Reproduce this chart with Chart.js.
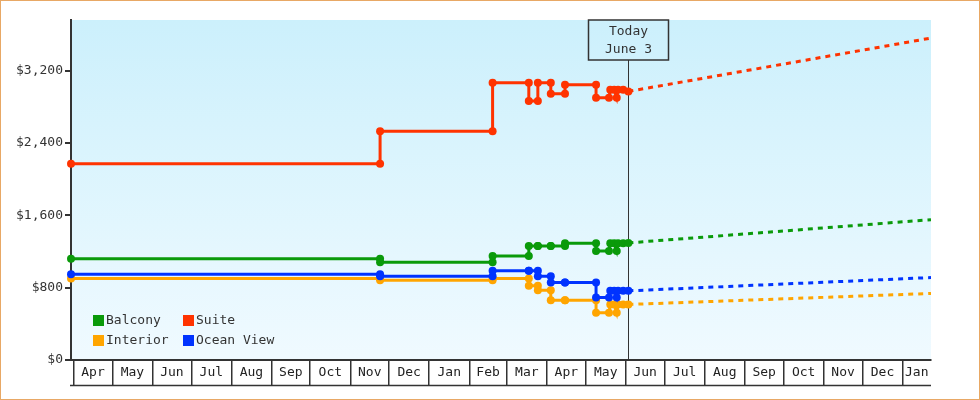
<!DOCTYPE html>
<html>
<head>
<meta charset="utf-8">
<script src="https://cdn.jsdelivr.net/npm/chart.js@4.4.1/dist/chart.umd.min.js"></script>
<style>
  html, body { margin: 0; padding: 0; background: #fff; }
  #wrap { width: 980px; height: 400px; box-sizing: border-box; border: 1px solid #e8a865; }
  canvas { display: block; }
</style>
</head>
<body>
<div id="wrap"><canvas id="chart" width="978" height="398"></canvas></div>
<script>
// axis range and month boxes
const axisStart = "2023-03-30";
const axisEnd = "2025-01-23";
const monthLabels = ["Apr", "May", "Jun", "Jul", "Aug", "Sep", "Oct", "Nov", "Dec", "Jan", "Feb",
  "Mar", "Apr", "May", "Jun", "Jul", "Aug", "Sep", "Oct", "Nov", "Dec", "Jan"];
const yTickValues = [0, 800, 1600, 2400, 3200];
const todayDate = "2024-06-03";
const todayLines = ["Today", "June 3"];

// price history (pairs of points on the same date are the steps)
const historyDates = ["2023-03-30", "2023-11-24", "2023-11-24", "2024-02-19", "2024-02-19",
  "2024-03-18", "2024-03-18", "2024-03-25", "2024-03-25", "2024-04-04", "2024-04-04",
  "2024-04-15", "2024-04-15", "2024-05-09", "2024-05-09", "2024-05-19", "2024-05-20",
  "2024-05-23", "2024-05-25", "2024-05-26", "2024-05-30", "2024-06-03"];
const balcony = [1120, 1120, 1080, 1080, 1150, 1150, 1260, 1260, 1260, 1260, 1262,
  1262, 1290, 1290, 1205, 1205, 1290, 1290, 1205, 1290, 1290, 1295];
const interior = [901, 901, 883, 883, 901, 901, 820, 820, 772, 772, 662,
  662, 662, 662, 522, 522, 614, 614, 522, 614, 614, 614];
const suite = [2170, 2170, 2530, 2530, 3065, 3065, 2865, 2865, 3065, 3065, 2945,
  2945, 3045, 3045, 2900, 2900, 2990, 2990, 2900, 2990, 2990, 2970];
const oceanView = [949, 949, 927, 927, 988, 988, 988, 988, 925, 925, 856,
  856, 856, 856, 692, 692, 765, 765, 692, 765, 765, 765];

// projected prices
const forecastDates = ["2024-06-03", "2025-01-23"];
const balconyForecast = [1295, 1552];
const interiorForecast = [614, 736];
const suiteForecast = [2970, 3560];
const oceanViewForecast = [765, 912];

const START = Date.UTC(2023, 3, 1);
const toDay = (s) => {
  const [y, m, d] = s.split("-").map(Number);
  return (Date.UTC(y, m - 1, d) - START) / 864e5;
};

const xMin = toDay(axisStart);
const xMax = toDay(axisEnd);
const boundaries = monthLabels.map((_, i) => (Date.UTC(2023, 3 + i, 1) - START) / 864e5);
const xTicks = [];
boundaries.forEach((b, i) => {
  const next = i + 1 < boundaries.length ? boundaries[i + 1] : xMax;
  xTicks.push({ value: b, label: "" });
  xTicks.push({ value: (b + next) / 2, label: monthLabels[i] });
});

const FONT = "DejaVu Sans Mono";
const INK = "#333";

function history(label, color, values) {
  return {
    label, borderColor: color, backgroundColor: color,
    data: historyDates.map((d, i) => ({ x: toDay(d), y: values[i] })),
    borderWidth: 3, pointRadius: 4, pointHoverRadius: 4, pointBorderWidth: 0,
    tension: 0, clip: false
  };
}
function forecast(label, color, values) {
  return {
    label, borderColor: color, backgroundColor: color, isForecast: true,
    data: forecastDates.map((d, i) => ({ x: toDay(d), y: values[i] })),
    borderWidth: 3, borderDash: [5, 5], pointRadius: 0, tension: 0
  };
}

const legendItems = [
  ["Balcony", "#0a9a0a"], ["Suite", "#ff3300"],
  ["Interior", "#ffa500"], ["Ocean View", "#0033ff"]
];

const chartDecor = {
  id: "chartDecor",
  beforeDraw(chart) {
    const { ctx, chartArea: a } = chart;
    const g = ctx.createLinearGradient(0, a.top, 0, a.bottom);
    g.addColorStop(0, "#ccf0fc");
    g.addColorStop(1, "#f0faff");
    ctx.save();
    ctx.fillStyle = g;
    ctx.fillRect(a.left, a.top, a.right - a.left, a.bottom - a.top);
    ctx.restore();
  },
  beforeDatasetsDraw(chart) {
    const { ctx, chartArea: a } = chart;
    const x = Math.round(chart.scales.x.getPixelForValue(toDay(todayDate))) + 0.5;
    ctx.save();
    ctx.strokeStyle = INK;
    ctx.lineWidth = 1;
    ctx.beginPath();
    ctx.moveTo(x, a.top + 40);
    ctx.lineTo(x, a.bottom);
    ctx.stroke();
    ctx.lineWidth = 1.5;
    ctx.strokeRect(x - 40, a.top, 80, 40);
    ctx.fillStyle = INK;
    ctx.font = "13px " + FONT;
    ctx.textAlign = "center";
    ctx.textBaseline = "middle";
    ctx.fillText(todayLines[0], x, a.top + 12);
    ctx.fillText(todayLines[1], x, a.top + 30);
    ctx.restore();
  },
  afterDatasetsDraw(chart) {
    const { ctx, chartArea: a } = chart;
    ctx.save();
    ctx.font = "13px " + FONT;
    ctx.textBaseline = "middle";
    legendItems.forEach(([label, color], i) => {
      const x = a.left + 22 + (i % 2) * 90;
      const y = a.bottom - 40 + Math.floor(i / 2) * 20;
      ctx.fillStyle = color;
      ctx.fillRect(x, y - 5, 11, 11);
      ctx.fillStyle = INK;
      ctx.fillText(label, x + 13, y + 1);
    });
    ctx.restore();
  },
  afterDraw(chart) {
    const { ctx, chartArea: a } = chart;
    ctx.save();
    ctx.strokeStyle = INK;
    ctx.lineWidth = 1.5;
    ctx.beginPath();
    ctx.moveTo(a.left - 1, a.bottom + 25.5);
    ctx.lineTo(a.right, a.bottom + 25.5);
    ctx.stroke();
    ctx.restore();
  }
};

new Chart(document.getElementById("chart"), {
  type: "line",
  data: {
    datasets: [
      history("Balcony", "#0a9a0a", balcony),
      history("Ocean View", "#0033ff", oceanView),
      history("Interior", "#ffa500", interior),
      history("Suite", "#ff3300", suite),
      forecast("Balcony forecast", "#0a9a0a", balconyForecast),
      forecast("Ocean View forecast", "#0033ff", oceanViewForecast),
      forecast("Interior forecast", "#ffa500", interiorForecast),
      forecast("Suite forecast", "#ff3300", suiteForecast)
    ]
  },
  options: {
    responsive: false,
    animation: false,
    events: [],
    layout: { padding: { top: 19, right: 48, bottom: 13, left: 0 } },
    plugins: { legend: { display: false }, tooltip: { enabled: false } },
    scales: {
      x: {
        type: "linear",
        min: xMin,
        max: xMax,
        afterBuildTicks: (scale) => { scale.ticks = xTicks.map((t) => ({ value: t.value })); },
        afterFit: (scale) => { scale.height = 26; },
        ticks: {
          autoSkip: false,
          maxRotation: 0,
          padding: -20,
          color: "#222",
          font: { family: FONT, size: 13 },
          callback: (v, i) => xTicks[i] ? xTicks[i].label : ""
        },
        grid: {
          drawOnChartArea: false,
          tickLength: 25,
          lineWidth: 1.5,
          color: (c) => (c.index % 2 === 0 ? INK : "rgba(0,0,0,0)")
        },
        border: { color: INK, width: 2 }
      },
      y: {
        min: 0,
        max: 3760,
        afterBuildTicks: (scale) => { scale.ticks = yTickValues.map((v) => ({ value: v })); },
        afterFit: (scale) => { scale.width = 70; },
        ticks: {
          padding: 2,
          color: INK,
          font: { family: FONT, size: 13 },
          callback: (v) => "$" + v.toLocaleString("en-US")
        },
        grid: { drawOnChartArea: false, tickLength: 6, lineWidth: 2, color: INK },
        border: { color: INK, width: 2 }
      }
    }
  },
  plugins: [chartDecor]
});
</script>
</body>
</html>
